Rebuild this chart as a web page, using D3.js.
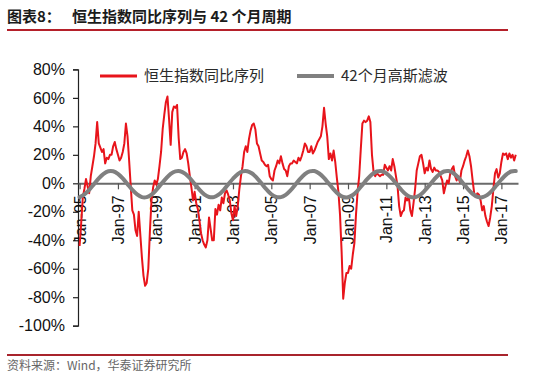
<!DOCTYPE html>
<html><head><meta charset="utf-8">
<script src="https://cdn.jsdelivr.net/npm/d3@7"></script>
<style>body{margin:0;background:#fff}</style>
</head><body><svg id="c" width="550" height="386"></svg>
<script>
// ---- data (monthly, starting Jan-1995) ----
const titleText = "图表8：";
const titleRest = "恒生指数同比序列与 42 个月周期";
const sourceText = "资料来源：Wind，华泰证券研究所";
const seriesNames = ["恒生指数同比序列", "42个月高斯滤波"];
const hsiYoY = [
  -44,-28,-10,-4,3,-2,-7,5,12,19,28,43,
  28,25,22,24,14,18,17,20,20,26,29,24,
  20,16,18,22,28,42,33,16,-2,-19,-22,-33,
  -37,-20,-36,-52,-65,-72,-70,-60,-34,-12,-3,2,
  -1,3,12,22,38,48,57,61,45,27,50,54,
  53,55,32,17,18,22,24,21,14,5,-3,-12,
  -6,-14,-18,-26,-35,-40,-43,-45,-40,-24,-32,-40,
  -40,-18,-22,-15,-19,-10,-14,-7,-5,-8,-12,-21,
  -26,-16,-23,-16,-4,5,12,22,26,22,31,37,
  41,42,38,28,26,21,16,15,13,12,13,5,
  3,2,9,12,16,14,19,14,10,9,5,12,
  14,14,16,15,14,18,16,19,23,28,26,22,
  22,26,21,23,26,29,31,33,40,53,42,33,
  17,21,16,23,15,4,-6,-22,-48,-81,-70,-63,
  -63,-58,-60,-50,-42,-22,-6,5,24,42,44,43,
  44,47,43,20,8,5,7,6,5,6,6,13,
  11,9,12,9,17,12,5,-2,-16,-23,-20,-19,
  -10,-12,-9,-19,-23,-14,-4,9,14,19,20,14,
  7,11,9,16,10,8,11,9,9,8,5,2,
  -7,-2,2,0,7,10,12,5,2,5,1,9,
  12,16,19,23,19,12,2,-7,-9,-7,-8,-12,
  -19,-16,-23,-27,-30,-24,-16,-4,7,10,4,7,
  15,21,20,21,17,21,18,20,16,20
];
// Gaussian-filtered 42-month cycle, one value every 3 months from Jan-1995
const gaussStep = 3;
const gauss42 = [
  -9.7,-7.8,-4.6,-0.6,3.5,6.7,8.5,8.5,6.7,3.5,-0.6,-4.6,-7.8,-9.7,
  -9.7,-7.9,-4.7,-0.7,3.3,6.6,8.4,8.5,6.8,3.6,-0.4,-4.5,-7.8,-9.6,
  -9.7,-8.0,-4.9,-0.8,3.2,6.5,8.4,8.5,6.9,3.7,-0.3,-4.3,-7.7,-9.6,
  -9.7,-8.1,-5.0,-1.0,3.1,6.4,8.4,8.6,6.9,3.8,-0.2,-4.2,-7.6,-9.6,
  -9.8,-8.2,-5.1,-1.1,2.9,6.3,8.3,8.6,7.0,4.0,0.0,-4.1,-7.5,-9.5,
  -9.8,-8.3,-5.2,-1.3,2.8,6.2,8.3,8.6,7.1,4.1,0.1,-4.0,-7.4,-9.5,
  -9.8,-8.3,-5.3,-1.4,2.7,6.1,8.3,8.6
];
const yTickValues = [80,60,40,20,0,-20,-40,-60,-80,-100];
const xTickMonths = [0,24,48,72,96,120,144,168,192,216,240,264];
const xTickLabels = ["Jan-95","Jan-97","Jan-99","Jan-01","Jan-03","Jan-05","Jan-07","Jan-09","Jan-11","Jan-13","Jan-15","Jan-17"];

// ---- drawing ----
const svg = d3.select("#c");
const cjk = "'Noto Sans CJK SC','Noto Sans',sans-serif";
const latin = "'Liberation Sans',Arial,sans-serif";

const x = d3.scaleLinear().domain([-1, 274.4]).range([78, 518]);
const y = d3.scaleLinear().domain([-100, 80]).range([325.7, 69.4]);

// title
const t = svg.append("text").attr("x", 7).attr("y", 22)
  .attr("font-family", cjk).attr("font-weight", "bold").attr("font-size", 15)
  .attr("fill", "#1b1b1b");
t.append("tspan").text(titleText);
t.append("tspan").attr("x", 72).text(titleRest);
svg.append("line").attr("x1", 7).attr("x2", 508).attr("y1", 30).attr("y2", 30)
  .attr("stroke", "#b5202a").attr("stroke-width", 2);

// footer
svg.append("line").attr("x1", 7).attr("x2", 508).attr("y1", 355).attr("y2", 355)
  .attr("stroke", "#a8242c").attr("stroke-width", 2);
svg.append("text").attr("x", 7).attr("y", 370).text(sourceText)
  .attr("font-family", cjk).attr("font-size", 12).attr("fill", "#666");

// y axis
const yAxis = d3.axisLeft(y).tickValues(yTickValues).tickSize(5).tickPadding(8)
  .tickFormat(d => d + "%");
const gy = svg.append("g").attr("transform", "translate(78,0)").call(yAxis);
gy.select(".domain").attr("stroke", "#222").attr("stroke-width", 1.2);
gy.selectAll(".tick line").attr("stroke", "#222").attr("stroke-width", 1.2);
gy.selectAll("text").attr("font-family", latin).attr("font-size", 16).attr("fill", "#111");

// x axis at zero
const xAxis = d3.axisBottom(x).tickValues(xTickMonths).tickSize(6).tickSizeOuter(0)
  .tickFormat((d, i) => xTickLabels[i]);
const gx = svg.append("g").attr("transform", `translate(0,${y(0)})`).call(xAxis);
gx.select(".domain").attr("stroke", "#6a6a6a").attr("stroke-width", 2);
gx.selectAll(".tick line").attr("stroke", "#555").attr("stroke-width", 1.2);
gx.selectAll("text")
  .attr("font-family", latin).attr("font-size", 16).attr("fill", "#111")
  .attr("text-anchor", "end")
  .attr("transform", "translate(0,12) rotate(-90)")
  .attr("x", 0).attr("y", 0).attr("dy", "0.35em");

// series
const redLine = d3.line().x((d, i) => x(i)).y(d => y(d));
svg.append("path").datum(hsiYoY).attr("d", redLine)
  .attr("fill", "none").attr("stroke", "#e8141b").attr("stroke-width", 2)
  .attr("stroke-linejoin", "round");

const grayLine = d3.line().x((d, i) => x(i * gaussStep)).y(d => y(d))
  .curve(d3.curveCatmullRom);
svg.append("path").datum(gauss42).attr("d", grayLine)
  .attr("fill", "none").attr("stroke", "#808080").attr("stroke-width", 4)
  .attr("stroke-linecap", "round");

// legend
const legend = [
  {name: seriesNames[0], color: "#e8141b", w: 3, x: 100},
  {name: seriesNames[1], color: "#808080", w: 4, x: 297}
];
const lg = svg.append("g");
legend.forEach(l => {
  lg.append("line").attr("x1", l.x).attr("x2", l.x + 37).attr("y1", 76).attr("y2", 76)
    .attr("stroke", l.color).attr("stroke-width", l.w);
  lg.append("text").attr("x", l.x + 44).attr("y", 81).text(l.name)
    .attr("font-family", cjk).attr("font-size", 15).attr("fill", "#2a2a2a");
});
</script>
</body></html>
